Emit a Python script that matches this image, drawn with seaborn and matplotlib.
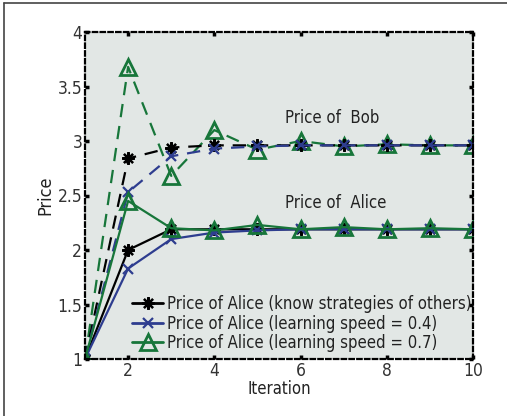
import matplotlib
matplotlib.use("Agg")
import matplotlib.pyplot as plt
import seaborn as sns
import numpy as np
from matplotlib.lines import Line2D

sns.set_theme(style="white")
plt.rcParams['font.family'] = ['DejaVu Sans']
plt.rcParams['font.stretch'] = 'condensed'

iterations = [1, 2, 3, 4, 5, 6, 7, 8, 9, 10]
alice_know = [1.0, 2.0, 2.19, 2.19, 2.19, 2.19, 2.19, 2.19, 2.19, 2.19]
bob_know = [1.0, 2.84, 2.94, 2.96, 2.96, 2.96, 2.96, 2.96, 2.96, 2.96]
alice_04 = [1.0, 1.83, 2.10, 2.16, 2.18, 2.19, 2.19, 2.19, 2.19, 2.19]
bob_04 = [1.0, 2.53, 2.86, 2.93, 2.95, 2.96, 2.96, 2.96, 2.96, 2.96]
alice_07 = [1.0, 2.45, 2.20, 2.18, 2.23, 2.19, 2.21, 2.19, 2.20, 2.19]
bob_07 = [1.0, 3.68, 2.68, 3.10, 2.92, 3.00, 2.95, 2.97, 2.96, 2.96]

labels = ["Price of Alice (know strategies of others)",
          "Price of Alice (learning speed = 0.4)",
          "Price of Alice (learning speed = 0.7)"]

BLACK = "#000000"
BLUE = "#2e3d8f"
GREEN = "#17763a"
ASTER = (8, 2, 0)

fig = plt.figure(figsize=(5.07, 4.16), dpi=100)
ax = fig.add_axes([85/507, 1-359/416, (473-85)/507, (359-32)/416])
ax.set_facecolor("#e2e7e5")

dash = (6, 4)
lw = 1.6
# Bob dashed lines
sns.lineplot(x=iterations, y=bob_07, ax=ax, color=GREEN, lw=lw, marker="^", ms=11,
             mfc="none", mec=GREEN, mew=2, linestyle=(0, dash))
sns.lineplot(x=iterations, y=bob_know, ax=ax, color=BLACK, lw=lw, marker=ASTER, ms=9,
             mec=BLACK, mew=1.6, linestyle=(0, dash))
sns.lineplot(x=iterations, y=bob_04, ax=ax, color=BLUE, lw=lw, marker="x", ms=7,
             mec=BLUE, mew=1.6, linestyle=(0, dash))
# Alice solid lines
sns.lineplot(x=iterations, y=alice_know, ax=ax, color=BLACK, lw=lw, marker=ASTER, ms=9,
             mec=BLACK, mew=1.6)
sns.lineplot(x=iterations, y=alice_04, ax=ax, color=BLUE, lw=lw, marker="x", ms=7,
             mec=BLUE, mew=1.6)
sns.lineplot(x=iterations, y=alice_07, ax=ax, color=GREEN, lw=lw, marker="^", ms=11,
             mfc="none", mec=GREEN, mew=2)

ax.set_xlim(1, 10)
ax.set_ylim(1, 4)
ax.set_xticks([2, 4, 6, 8, 10])
ax.set_yticks([1, 1.5, 2, 2.5, 3, 3.5, 4])
ax.set_yticklabels(["1", "1.5", "2", "2.5", "3", "3.5", "4"])
ax.tick_params(direction="in", length=3, width=2.5, color="black",
               top=True, right=True, bottom=True, left=True,
               labelsize=12.5, labelcolor="#333333", pad=2)
for sp in ax.spines.values():
    sp.set_visible(True)
    sp.set_color("black")
    sp.set_linewidth(1.6)
    sp.set_linestyle((0, (2, 1.5)))

ax.set_xlabel("Iteration", fontsize=12, color="#222222", labelpad=0)
ax.set_ylabel("Price", fontsize=13, color="#222222", labelpad=2)

ax.text(5.63, 3.21, "Price of  Bob", fontsize=12, color="#222222", va="center")
ax.text(5.63, 2.43, "Price of  Alice", fontsize=12, color="#222222", va="center")

handles = [
    Line2D([], [], color=BLACK, lw=2, marker=ASTER, ms=9, mew=1.6),
    Line2D([], [], color=BLUE, lw=2, marker="x", ms=7, mew=1.6),
    Line2D([], [], color=GREEN, lw=2, marker="^", ms=11, mfc="none", mew=2),
]
ax.legend(handles, labels, loc="lower left", bbox_to_anchor=(0.092, -0.015),
          frameon=False, fontsize=12, handlelength=1.85, handletextpad=0.25,
          labelspacing=0.1, borderaxespad=0.3, labelcolor="#222222")

fig.add_artist(Line2D([4/507, 4/507], [0, 1-3/416], color="#444444", lw=1.2))
fig.add_artist(Line2D([4/507, 1], [1-3/416, 1-3/416], color="#444444", lw=1.2))

fig.savefig("out.png", dpi=100)
